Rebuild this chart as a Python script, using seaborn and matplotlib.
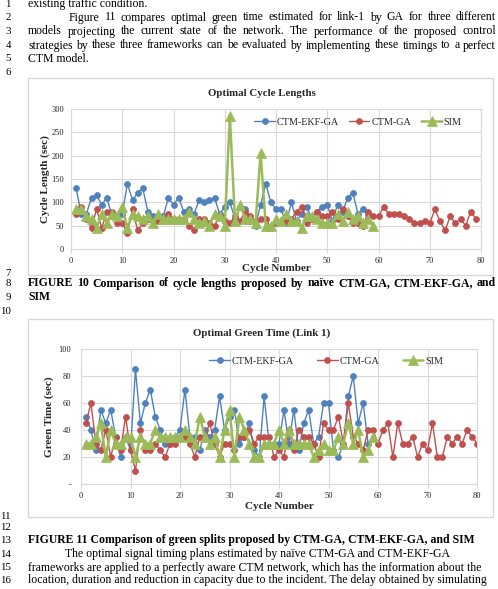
import matplotlib
matplotlib.use("Agg")
import matplotlib.pyplot as plt
import matplotlib.patches as mpatches
import seaborn as sns
import pandas as pd

# ---------------- data ----------------
cycle_ekf = [130, 75, 75, 110, 115, 95, 110, 70, 70, 75, 140, 105, 120, 130, 80, 70, 65, 70, 110, 95,
             110, 80, 85, 75, 105, 100, 105, 110, 75, 90, 100, 65, 90, 85, 60, 50, 95, 140, 100, 85,
             85, 55, 100, 60, 75, 90, 65, 80, 90, 95, 60, 95, 80, 110, 120, 75, 85, 75]
cycle_ga = [75, 90, 65, 45, 85, 45, 80, 80, 55, 55, 35, 85, 40, 55, 65, 60, 60, 60, 75, 65,
            65, 65, 50, 40, 65, 65, 55, 50, 70, 60, 55, 70, 60, 80, 70, 60, 65, 65, 45, 55,
            60, 60, 65, 80, 90, 55, 65, 80, 70, 70, 80, 65, 85, 70, 55, 55, 50, 80, 70, 70,
            90, 75, 75, 75, 70, 65, 55, 55, 60, 55, 85, 60, 40, 70, 55, 65, 50, 80, 65]
cycle_sim = [85, 85, 70, 65, 45, 75, 55, 75, 70, 90, 45, 75, 70, 65, 70, 55, 75, 65, 65, 65,
             65, 65, 80, 65, 55, 60, 50, 75, 70, 50, 285, 60, 95, 65, 65, 55, 205, 50, 50, 65,
             60, 75, 60, 60, 45, 70, 70, 65, 55, 55, 55, 75, 60, 80, 65, 70, 55, 65, 50]

green_ekf = [50, 40, 25, 55, 45, 55, 35, 20, 35, 25, 85, 45, 60, 70, 50, 40, 30, 30, 35, 40,
             70, 35, 35, 25, 40, 35, 40, 65, 40, 50, 55, 30, 35, 45, 25, 20, 65, 30, 30, 30,
             55, 30, 55, 25, 45, 55, 30, 35, 60, 60, 25, 20, 30, 65, 80, 45, 60, 30]
green_ga = [45, 60, 30, 25, 40, 20, 35, 25, 50, 25, 10, 40, 25, 25, 30, 25, 20, 30, 30, 35,
            35, 30, 20, 35, 35, 45, 30, 20, 30, 30, 25, 35, 35, 40, 30, 35, 35, 35, 20, 25,
            20, 40, 25, 40, 35, 35, 30, 20, 45, 40, 40, 50, 30, 60, 35, 30, 25, 40, 40, 30,
            40, 45, 20, 45, 30, 30, 35, 20, 30, 25, 45, 20, 20, 35, 30, 35, 30, 40, 35, 30]
green_sim = [30, 30, 35, 45, 20, 40, 30, 30, 35, 35, 20, 35, 30, 30, 40, 35, 35, 35, 35, 35,
             40, 35, 30, 50, 35, 30, 35, 20, 40, 55, 20, 50, 40, 30, 20, 20, 30, 30, 30, 40,
             30, 40, 30, 30, 30, 30, 20, 25, 30, 25, 25, 35, 30, 45, 30, 40, 20, 25, 35]

series_names = ["CTM-EKF-GA", "CTM-GA", "SIM"]
x_ticks = [0, 10, 20, 30, 40, 50, 60, 70, 80]
cycle_yticks = [0, 50, 100, 150, 200, 250, 300]
green_yticks = [0, 20, 40, 60, 80, 100]
green_yticklabels = ["-", "20", "40", "60", "80", "100"]

body_lines = [
    (1, "existing traffic condition.", 28, None, "normal"),
    (2, "Figure 11 compares optimal green time estimated for link-1 by GA for three different", 69, 496, "normal"),
    (3, "models projecting the current state of the network. The performance of the proposed control", 28, 496, "normal"),
    (4, "strategies by these three frameworks can be evaluated by implementing these timings to a perfect", 28, 496, "normal"),
    (5, "CTM model.", 28, None, "normal"),
    (6, "", 28, None, "normal"),
    (7, "", 28, None, "normal"),
    (8, "FIGURE 10 Comparison of cycle lengths proposed by naïve CTM-GA, CTM-EKF-GA, and", 28, 496, "bold"),
    (9, "SIM", 28, None, "bold"),
    (10, "", 28, None, "normal"),
    (11, "", 28, None, "normal"),
    (12, "", 28, None, "normal"),
    (13, "FIGURE 11 Comparison of green splits proposed by CTM-GA, CTM-EKF-GA, and SIM", 28, None, "bold"),
    (14, "The optimal signal timing plans estimated by naïve CTM-GA and CTM-EKF-GA", 65, None, "normal"),
    (15, "frameworks are applied to a perfectly aware CTM network, which has the information about the", 28, None, "normal"),
    (16, "location, duration and reduction in capacity due to the incident. The delay obtained by simulating", 28, None, "normal"),
]
line_y = {1: 4, 2: 17, 3: 31, 4: 45, 5: 58, 6: 72, 7: 273, 8: 283, 9: 297, 10: 311,
          11: 516, 12: 527, 13: 540, 14: 554, 15: 567, 16: 580}

# ---------------- style ----------------
W, H = 498, 589
sns.set_theme(style="white")
plt.rcParams["font.family"] = ["Liberation Serif", "DejaVu Serif"]

BLUE, RED, GREEN = "#4F81BD", "#C0504D", "#9BBB59"
GRID = "#d9d9d9"

fig = plt.figure(figsize=(W / 100, H / 100), dpi=100)
fig.patch.set_facecolor("white")
renderer = fig.canvas.get_renderer()

BODY_FS = 8.5


def fx(px):
    return px / W


def fy(py):
    return 1 - py / H


def put_text(text, x0, yc, size, weight, justify_to):
    base = yc + 3.5
    if not text:
        return
    if justify_to is None:
        fig.text(fx(x0), fy(base), text, fontsize=size, fontweight=weight,
                 ha="left", va="baseline", color="black")
        return
    words = text.split(" ")
    widths = []
    for w in words:
        t = fig.text(0, 0, w, fontsize=size, fontweight=weight)
        widths.append(t.get_window_extent(renderer).width)
        t.remove()
    gap = (justify_to - x0 - sum(widths)) / (len(words) - 1)
    x = x0
    for w, wd in zip(words, widths):
        fig.text(fx(x), fy(base), w, fontsize=size, fontweight=weight,
                 ha="left", va="baseline", color="black")
        x += wd + gap


for num, text, x0, jt, wt in body_lines:
    yc = line_y[num]
    fig.text(fx(11), fy(yc + 3.2), str(num), fontsize=7.8, ha="right", va="baseline", color="black")
    put_text(text, x0, yc, BODY_FS, wt, jt)

# chart frames (behind the axes)
for (y0, y1) in [(78, 275), (319, 517)]:
    fig.patches.append(mpatches.Rectangle((fx(28), fy(y1)), fx(493) - fx(28), fy(y0) - fy(y1),
                                          transform=fig.transFigure, fill=True, facecolor="white",
                                          edgecolor=GRID, lw=1.0, zorder=-5))


def style_axes(ax, ylim, yticks, yticklabels, ypad):
    ax.set_xlim(0, 80)
    ax.set_ylim(*ylim)
    ax.set_xticks(x_ticks)
    ax.set_xticklabels([str(v) for v in x_ticks])
    ax.set_yticks(yticks)
    ax.set_yticklabels(yticklabels)
    ax.grid(True, color=GRID, lw=0.8)
    ax.set_axisbelow(True)
    ax.patch.set_alpha(0)
    for s in ax.spines.values():
        s.set_color(GRID)
        s.set_linewidth(0.8)
    ax.tick_params(axis="x", which="both", bottom=True, length=3, width=0.8, color=GRID,
                   labelsize=6.0, pad=2.5)
    ax.tick_params(axis="y", which="both", left=False, length=0, labelsize=6.0, pad=ypad)


def draw_series(ax, ys_list):
    specs = [(BLUE, "o", 4.3, 1.0), (RED, "o", 4.3, 1.0), (GREEN, "^", 6.5, 1.8)]
    for name, ys, (c, m, ms, lw) in zip(series_names, ys_list, specs):
        df = pd.DataFrame({"x": list(range(1, len(ys) + 1)), "y": ys})
        sns.lineplot(data=df, x="x", y="y", ax=ax, color=c, marker=m, markersize=ms,
                     markeredgecolor=c, markeredgewidth=0.5, linewidth=lw, label=name,
                     estimator=None, sort=False)


# ---------- chart 1 ----------
ax1 = fig.add_axes([fx(71), fy(249), fx(481) - fx(71), fy(109) - fy(249)])
draw_series(ax1, [cycle_ekf, cycle_ga, cycle_sim])
style_axes(ax1, (0, 300), cycle_yticks, [str(v) for v in cycle_yticks], 5)
ax1.set_xlabel("Cycle Number", fontsize=8.0, fontweight="bold")
ax1.set_ylabel("Cycle Length (sec)", fontsize=8.0, fontweight="bold")
ax1.xaxis.set_label_coords(0.5, -0.11)
ax1.yaxis.set_label_coords(-0.052, 0.5)
ax1.legend(loc="center right", bbox_to_anchor=(0.975, 0.907), ncol=3, frameon=False,
           fontsize=7.3, handlelength=2.0, handletextpad=0.2, columnspacing=1.0)
fig.text(fx(262), fy(93), "Optimal Cycle Lengths", fontsize=7.8, fontweight="bold",
         ha="center", va="center")

# ---------- chart 2 ----------
ax2 = fig.add_axes([fx(81), fy(484), fx(477) - fx(81), fy(349) - fy(484)])
draw_series(ax2, [green_ekf, green_ga, green_sim])
style_axes(ax2, (0, 100), green_yticks, green_yticklabels, 7)
ax2.set_xlabel("Cycle Number", fontsize=8.0, fontweight="bold")
ax2.set_ylabel("Green Time (sec)", fontsize=8.0, fontweight="bold")
ax2.xaxis.set_label_coords(0.5, -0.135)
ax2.yaxis.set_label_coords(-0.068, 0.5)
ax2.legend(loc="center right", bbox_to_anchor=(0.937, 0.911), ncol=3, frameon=False,
           fontsize=7.3, handlelength=2.0, handletextpad=0.2, columnspacing=2.3)
fig.text(fx(262), fy(333), "Optimal Green Time (Link 1)", fontsize=7.8, fontweight="bold",
         ha="center", va="center")

fig.savefig("out.png", dpi=100, facecolor="white")
